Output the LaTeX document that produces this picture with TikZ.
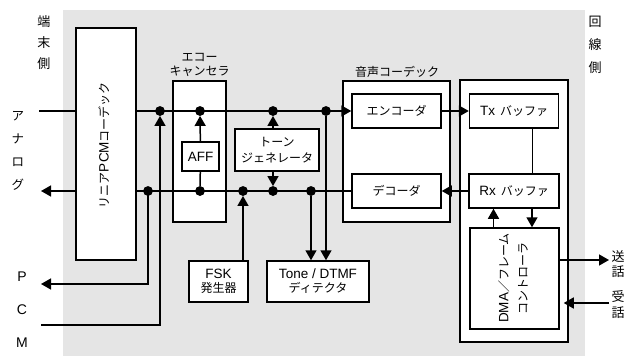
\documentclass[tikz,border=0pt]{standalone}
\usepackage{fontspec}
\setmainfont{Liberation Sans}
\newfontfamily\jp{Noto Sans CJK JP}
\usetikzlibrary{arrows.meta}
\newcommand{\J}[1]{{\jp\fontsize{12}{14}\selectfont #1}}
\begin{document}
\begin{tikzpicture}[x=1pt,y=-1pt,
  every node/.style={inner sep=0pt},
  box/.style={draw, line width=1.5pt, fill=white, align=center,
    font=\fontsize{13.5}{15}\selectfont},
  ln/.style={line width=1.5pt},
  thinln/.style={line width=0.9pt},
  arr/.style={line width=1.5pt, -{Triangle[length=10pt,width=11pt]}},
  dot/.style={circle, fill=black, minimum size=9.5pt, inner sep=0pt},
  lbl/.style={align=center}]
\useasboundingbox (0,0) rectangle (635,356);
\fill[black!10] (63,10) rectangle (585,356);

% boxes
\node[box, minimum width=60pt, minimum height=232pt] (codec) at (106,144) {};
\node[rotate=90, font=\fontsize{13.5}{15}\selectfont] (codectxt) at (104,145) {\J{リニア}PCM\J{コーデック}};
\node[box, minimum width=53pt, minimum height=141pt] (echo) at (199.5,151.5) {};
\node[box, minimum width=107pt, minimum height=141pt] (vcodec) at (396.5,151.5) {};
\node[box, minimum width=108pt, minimum height=262pt] (buf) at (514,211) {};

\node[box, minimum width=37pt, minimum height=29pt] (aff) at (200.5,156.5) {AFF};
\node[box, minimum width=84pt, minimum height=42pt] (tg) at (277,150)
  {\J{トーン}\\[1pt]\J{ジェネレータ}};
\node[box, minimum width=59pt, minimum height=41pt] (fsk) at (218.5,281.5)
  {FSK\\[-1pt]\J{発生器}};
\node[box, minimum width=102pt, minimum height=41pt] (dtmf) at (318,281.5)
  {Tone / DTMF\\[-1pt]\J{ディテクタ}};
\node[box, minimum width=89pt, minimum height=34pt] (enc) at (396.5,111) {\J{エンコーダ}};
\node[box, minimum width=89pt, minimum height=34pt] (dec) at (396.5,191) {\J{デコーダ}};
\node[box, minimum width=89pt, minimum height=34pt] (tx) at (514,111) {Tx\hspace{5pt}\J{バッファ}};
\node[box, minimum width=90pt, minimum height=34pt] (rx) at (514,191) {Rx\hspace{5pt}\J{バッファ}};
\node[box, minimum width=89pt, minimum height=101pt] (dma) at (514.5,278.5) {};
\node[rotate=90, align=center, font=\fontsize{13.5}{19}\selectfont] (dmatxt) at (513,278)
  {DMA\J{／フレーム}\\\J{コントローラ}};

% labels
\node[lbl, font=\jp\fontsize{13}{21}\selectfont] (lterm) at (44,43) {端\\末\\側};
\node[lbl, font=\jp\fontsize{12.5}{23}\selectfont] (lana) at (18,151) {ア\\ナ\\ロ\\グ};
\node[lbl, font=\fontsize{14}{33}\selectfont] (lpcm) at (22,310) {P\\C\\M};
\node[lbl, font=\jp\fontsize{13}{23}\selectfont] (lline) at (595,45) {回\\線\\側};
\node[lbl, font=\jp\fontsize{13}{15}\selectfont] (lsend) at (618,264) {送\\話};
\node[lbl, font=\jp\fontsize{13}{16}\selectfont] (lrecv) at (618,305) {受\\話};
\node[lbl, font=\jp\fontsize{12}{14}\selectfont] (lecho) at (199.5,65) {エコー\\キャンセラ};
\node[lbl, font=\jp\fontsize{12}{14}\selectfont] (lvc) at (397,72) {音声コーデック};

% bullets
\node[dot] (t1) at (160,111) {};
\node[dot] (t2) at (200,111) {};
\node[dot] (t3) at (273,111) {};
\node[dot] (t4) at (326,111) {};
\node[dot] (b1) at (148,191) {};
\node[dot] (b2) at (200,191) {};
\node[dot] (b3) at (243,191) {};
\node[dot] (b4) at (273,191) {};
\node[dot] (b5) at (311,191) {};

% free ends
\coordinate (ain) at (39,111);
\coordinate (aout) at (41,191);
\coordinate (ptip) at (41,284);
\coordinate (cin) at (41,325);
\coordinate (sout) at (609,260);
\coordinate (rin) at (609,303);

% main lines
\draw[ln] (ain) -- (codec.west |- ain);
\draw[arr] (codec.west |- aout) -- (aout);
\draw[arr] (codec.east |- enc) -- (enc.west);
\draw[ln] (dec.west) -- (codec.east |- dec);
\draw[arr] (b1.center) -- (b1.center |- ptip) -- (ptip);
\draw[arr] (cin) -- (cin -| t1) -- (t1);
\draw[arr] (aff) -- (t2);
\draw[ln] (aff) -- (b2);
\draw[arr] (tg.north -| t3) -- (t3);
\draw[arr] (tg.south -| b4) -- (b4);
\draw[arr] (fsk.north -| b3) -- (b3);
\draw[arr] (b5) -- (b5 |- dtmf.north);
\draw[arr] (t4) -- (t4 |- dtmf.north);
\draw[arr] (enc) -- (tx);
\draw[arr] (rx) -- (dec);
\draw[thinln] ([xshift=18pt]tx.south) -- ([xshift=18pt]rx.north);
\draw[arr] ([xshift=-21pt]dma.north) -- ([xshift=-21pt]dma.north |- rx.south);
\draw[arr] ([xshift=18pt]rx.south) -- ([xshift=18pt]rx.south |- dma.north);
\draw[arr] (dma.east |- sout) -- (sout);
\draw[arr] (rin) -- ([xshift=-5pt]buf.east |- rin);

% redraw bullets on top
\foreach \n in {t1,t2,t3,t4,b1,b2,b3,b4,b5} \fill (\n) circle (4.75pt);
\end{tikzpicture}
\end{document}
